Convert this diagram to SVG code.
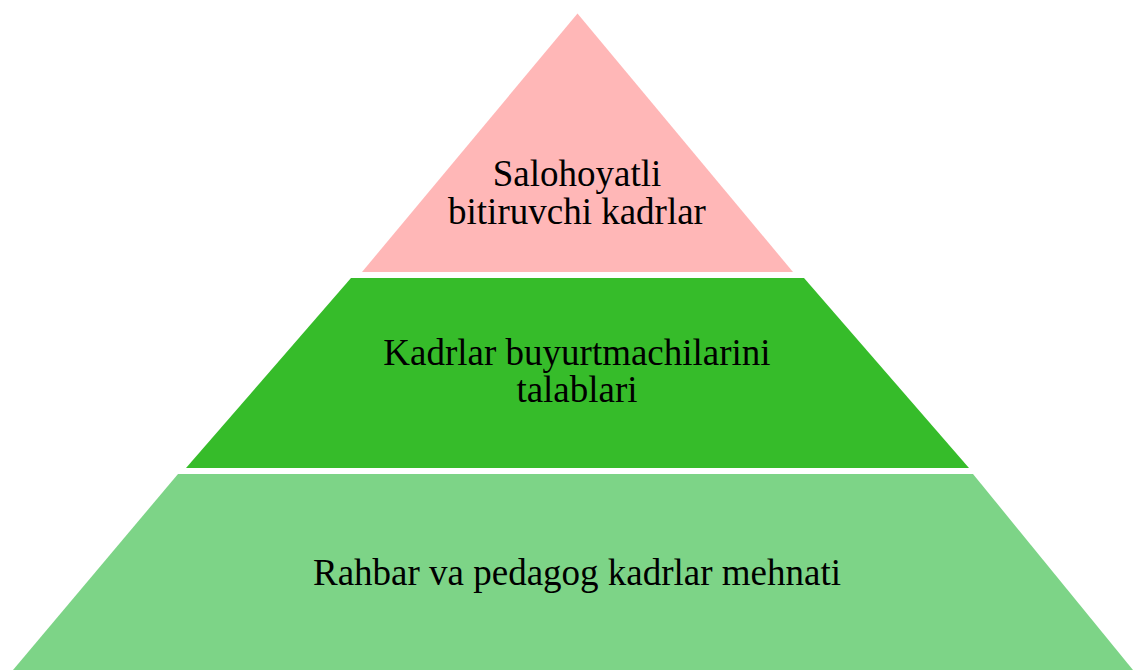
<svg xmlns="http://www.w3.org/2000/svg" width="1133" height="670" viewBox="0 0 1133 670">
<style>
text{font-family:"Liberation Serif","Times New Roman",serif;font-size:37px;fill:#000;text-anchor:middle}
</style>
<rect width="1133" height="670" fill="#fff"/>
<g id="layer-top">
<polygon points="577.5,13.5 793,272 362,272" fill="#FFB7B7"/>
<text x="577" y="186">Salohoyatli</text>
<text x="577" y="224">bitiruvchi kadrlar</text>
</g>
<g id="layer-middle">
<polygon points="351,278 804,278 969,468 186,468" fill="#36BC2A"/>
<text x="577" y="365">Kadrlar buyurtmachilarini</text>
<text x="577" y="402">talablari</text>
</g>
<g id="layer-bottom">
<polygon points="178,474 973,474 1133,670 13,670" fill="#7DD487"/>
<text x="577" y="585">Rahbar va pedagog kadrlar mehnati</text>
</g>
<g id="connectors"></g>
</svg>
